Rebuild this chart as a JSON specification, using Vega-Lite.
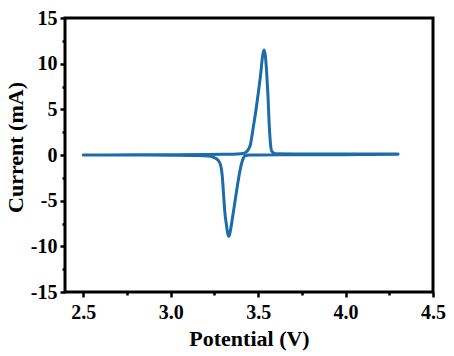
{
  "$schema": "https://vega.github.io/schema/vega-lite/v6.json",
  "width": 368,
  "height": 274,
  "autosize": {"type": "none"},
  "padding": {"left": 65, "top": 18, "right": 21, "bottom": 64},
  "background": "white",
  "config": {
    "view": {"stroke": "black", "strokeWidth": 3},
    "font": "Liberation Serif, Times New Roman, DejaVu Serif, serif"
  },
  "data": {
    "values": [
      {"i": 1, "v": 2.5, "c": 0.0},
      {"i": 2, "v": 2.8, "c": 0.02},
      {"i": 3, "v": 3.0, "c": 0.03},
      {"i": 4, "v": 3.2, "c": 0.05},
      {"i": 5, "v": 3.3, "c": 0.07},
      {"i": 6, "v": 3.38, "c": 0.1},
      {"i": 7, "v": 3.42, "c": 0.2},
      {"i": 8, "v": 3.44, "c": 0.5},
      {"i": 9, "v": 3.455, "c": 1.1},
      {"i": 10, "v": 3.47, "c": 2.8},
      {"i": 11, "v": 3.485, "c": 4.6},
      {"i": 12, "v": 3.5, "c": 6.7},
      {"i": 13, "v": 3.515, "c": 9.0},
      {"i": 14, "v": 3.525, "c": 10.8},
      {"i": 15, "v": 3.533, "c": 11.5},
      {"i": 16, "v": 3.54, "c": 11.0},
      {"i": 17, "v": 3.548, "c": 9.2},
      {"i": 18, "v": 3.556, "c": 6.5},
      {"i": 19, "v": 3.563, "c": 3.4},
      {"i": 20, "v": 3.57, "c": 1.3},
      {"i": 21, "v": 3.578, "c": 0.4},
      {"i": 22, "v": 3.6, "c": 0.15},
      {"i": 23, "v": 3.8, "c": 0.1},
      {"i": 24, "v": 4.0, "c": 0.1},
      {"i": 25, "v": 4.2, "c": 0.12},
      {"i": 26, "v": 4.3, "c": 0.12},
      {"i": 27, "v": 4.3, "c": 0.08},
      {"i": 28, "v": 4.1, "c": 0.05},
      {"i": 29, "v": 3.9, "c": 0.03},
      {"i": 30, "v": 3.7, "c": 0.02},
      {"i": 31, "v": 3.5, "c": 0.01},
      {"i": 32, "v": 3.45, "c": 0.0},
      {"i": 33, "v": 3.425, "c": -0.1},
      {"i": 34, "v": 3.41, "c": -0.6},
      {"i": 35, "v": 3.395, "c": -1.8},
      {"i": 36, "v": 3.38, "c": -3.5},
      {"i": 37, "v": 3.365, "c": -5.4},
      {"i": 38, "v": 3.352, "c": -7.0},
      {"i": 39, "v": 3.34, "c": -8.4},
      {"i": 40, "v": 3.333, "c": -8.9},
      {"i": 41, "v": 3.326, "c": -8.6},
      {"i": 42, "v": 3.318, "c": -7.6},
      {"i": 43, "v": 3.31, "c": -6.4},
      {"i": 44, "v": 3.302, "c": -4.3},
      {"i": 45, "v": 3.295, "c": -2.4},
      {"i": 46, "v": 3.285, "c": -1.1},
      {"i": 47, "v": 3.27, "c": -0.55},
      {"i": 48, "v": 3.25, "c": -0.3},
      {"i": 49, "v": 3.22, "c": -0.12},
      {"i": 50, "v": 3.15, "c": -0.05},
      {"i": 51, "v": 3.0, "c": -0.02},
      {"i": 52, "v": 2.8, "c": 0.0},
      {"i": 53, "v": 2.5, "c": 0.0}
    ]
  },
  "layer": [
    {
      "mark": {"type": "line", "opacity": 0},
      "encoding": {
        "x": {
          "field": "v", "type": "quantitative",
          "scale": {"domain": [2.395, 4.5], "nice": false, "zero": false},
          "axis": {"orient": "bottom", "values": [2.75, 3.25, 3.75, 4.25], "labels": false, "title": null, "domain": false, "grid": false, "tickColor": "black", "tickWidth": 2.5, "tickSize": 3}
        },
        "y": {
          "field": "c", "type": "quantitative",
          "scale": {"domain": [-15, 15], "nice": false},
          "axis": {"orient": "left", "values": [-12.5, -7.5, -2.5, 2.5, 7.5, 12.5], "labels": false, "title": null, "domain": false, "grid": false, "tickColor": "black", "tickWidth": 2.5, "tickSize": 3}
        },
        "order": {"field": "i", "type": "quantitative"}
      }
    },
    {
      "mark": {"type": "line", "color": "#1b6ca8", "strokeWidth": 3, "interpolate": "monotone", "strokeJoin": "round", "strokeCap": "round"},
      "encoding": {
        "x": {
          "field": "v", "type": "quantitative",
          "scale": {"domain": [2.395, 4.5], "nice": false, "zero": false},
          "axis": {
            "orient": "bottom",
            "values": [2.5, 3.0, 3.5, 4.0, 4.5], "format": ".1f",
            "title": "Potential (V)", "domain": false, "grid": false,
            "tickColor": "black", "tickWidth": 2.5, "tickSize": 5,
            "labelFont": "Liberation Serif, Times New Roman, DejaVu Serif, serif", "labelFontWeight": "bold", "labelFontSize": 20, "labelColor": "black", "labelPadding": 5,
            "titleFont": "Liberation Serif, Times New Roman, DejaVu Serif, serif", "titleFontWeight": "bold", "titleFontSize": 22, "titleColor": "black", "titlePadding": 6,
            "labelFlush": false
          }
        },
        "y": {
          "field": "c", "type": "quantitative",
          "scale": {"domain": [-15, 15], "nice": false},
          "axis": {
            "orient": "left",
            "values": [-15, -10, -5, 0, 5, 10, 15],
            "labelExpr": "replace(datum.label, '\u2212', '-')",
            "title": "Current (mA)", "domain": false, "grid": false,
            "tickColor": "black", "tickWidth": 2.5, "tickSize": 5,
            "labelFont": "Liberation Serif, Times New Roman, DejaVu Serif, serif", "labelFontWeight": "bold", "labelFontSize": 20, "labelColor": "black", "labelPadding": 3,
            "titleFont": "Liberation Serif, Times New Roman, DejaVu Serif, serif", "titleFontWeight": "bold", "titleFontSize": 22, "titleColor": "black", "titlePadding": 3,
            "titleY": 129,
            "labelFlush": false
          }
        },
        "order": {"field": "i", "type": "quantitative"}
      }
    }
  ],
  "resolve": {"axis": {"x": "independent", "y": "independent"}}
}
